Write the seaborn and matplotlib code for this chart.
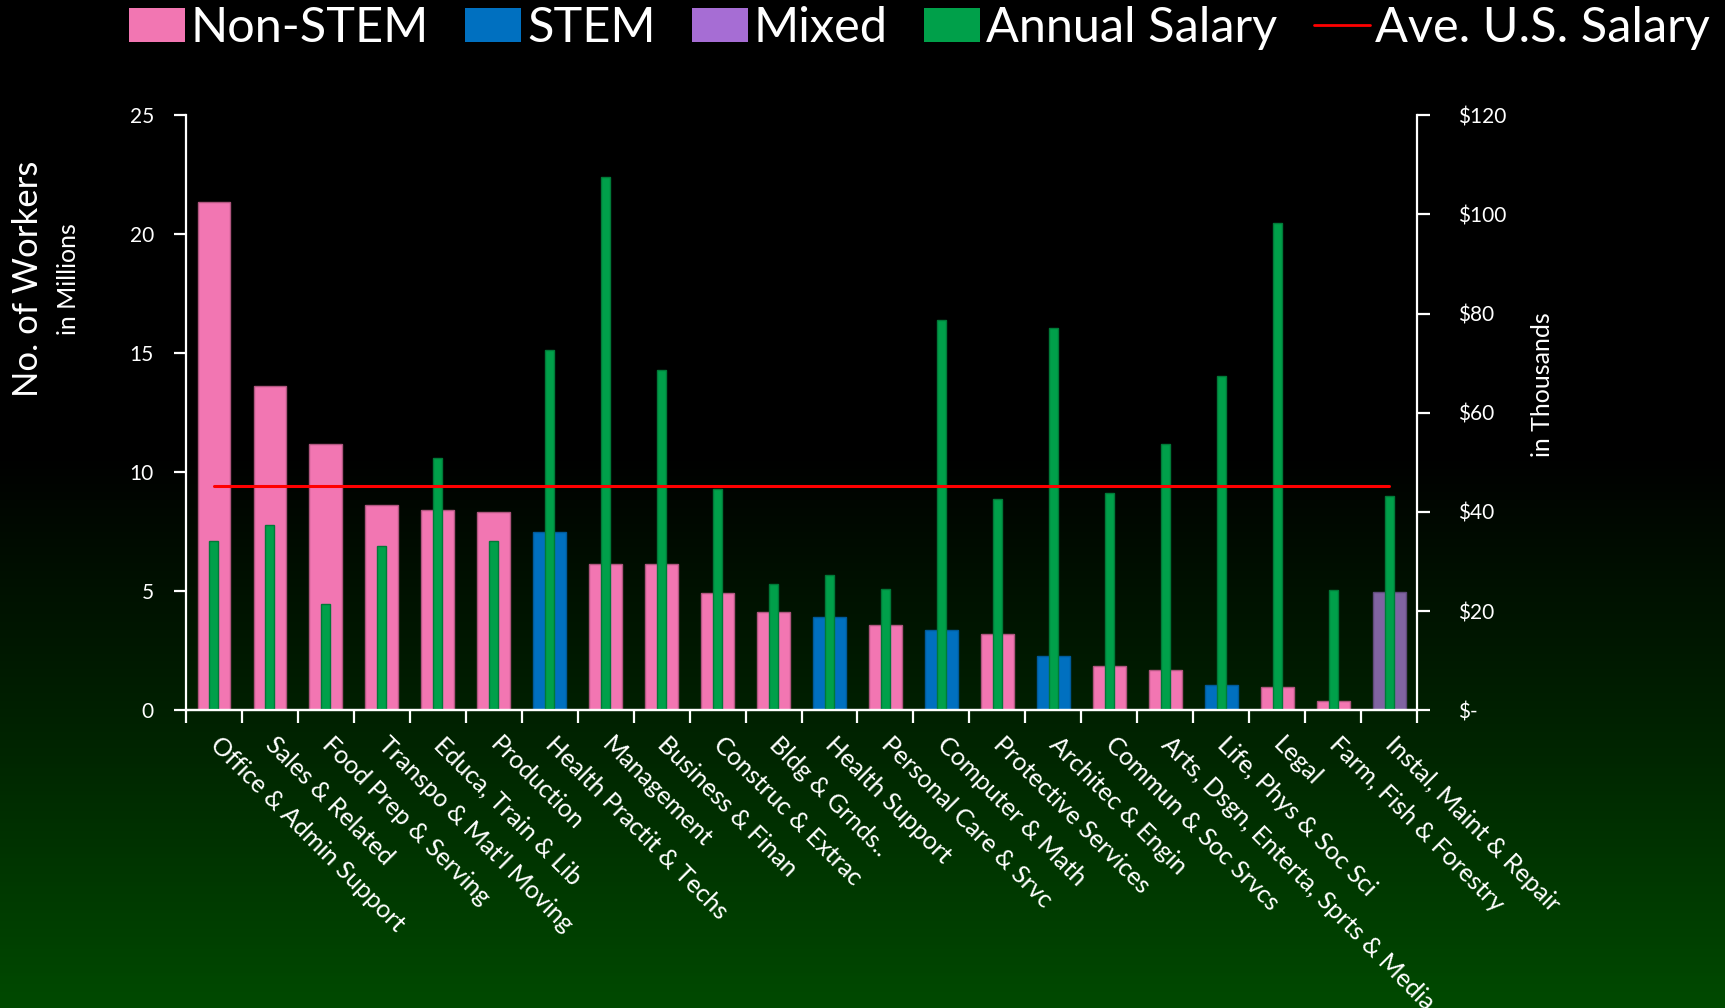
#!/usr/bin/env python3
# Workers per occupation group (bars, left axis) vs. annual salary (thin bars, right axis)

import numpy as np
import pandas as pd
import seaborn as sns
import matplotlib.pyplot as plt
from matplotlib.patches import Patch
from matplotlib.lines import Line2D
from matplotlib.colors import LinearSegmentedColormap, to_rgb

CATEGORIES = [
    "Office & Admin Support", "Sales & Related", "Food Prep & Serving",
    "Transpo & Mat'l Moving", "Educa, Train & Lib", "Production",
    "Health Practit & Techs", "Management", "Business & Finan",
    "Construc & Extrac", "Bldg & Grnds..", "Health Support",
    "Personal Care & Srvc", "Computer & Math", "Protective Services",
    "Architec & Engin", "Commun & Soc Srvcs", "Arts, Dsgn, Enterta, Sprts & Media",
    "Life, Phys & Soc Sci", "Legal", "Farm, Fish & Forestry", "Instal, Maint & Repair",
]
GROUPS = [
    "Non-STEM", "Non-STEM", "Non-STEM", "Non-STEM", "Non-STEM", "Non-STEM",
    "STEM", "Non-STEM", "Non-STEM", "Non-STEM", "Non-STEM", "STEM",
    "Non-STEM", "STEM", "Non-STEM", "STEM", "Non-STEM", "Non-STEM",
    "STEM", "Non-STEM", "Non-STEM", "Mixed",
]
WORKERS_M = [21.37, 13.64, 11.20, 8.63, 8.40, 8.34, 7.50, 6.14, 6.13, 4.91, 4.13,
             3.90, 3.57, 3.37, 3.19, 2.29, 1.86, 1.71, 1.05, 0.98, 0.39, 4.96]
SALARY_K = [34.1, 37.4, 21.4, 33.2, 50.8, 34.1, 72.7, 107.6, 68.7, 44.6, 25.4,
            27.2, 24.4, 78.7, 42.6, 77.1, 43.8, 53.8, 67.4, 98.2, 24.2, 43.3]
AVG_US_SALARY_K = 45.25

LEFT_TICKS = [0, 5, 10, 15, 20, 25]
RIGHT_TICKS = [0, 20, 40, 60, 80, 100, 120]
RIGHT_LABELS = ["$-", "$20", "$40", "$60", "$80", "$100", "$120"]

GROUP_ORDER = ["Non-STEM", "STEM", "Mixed"]
GROUP_COLORS = {"Non-STEM": "#F276B2", "STEM": "#0070C0", "Mixed": "#8064A2"}
GROUP_EDGES = {"Non-STEM": "#B0567F", "STEM": "#005A9A", "Mixed": "#5F4A7A"}
SALARY_COLOR = "#00A04A"
AVG_COLOR = "#FF0000"
FONT = ["Lato", "DejaVu Sans"]


def main():
    df = pd.DataFrame({"occupation": CATEGORIES, "group": GROUPS,
                       "workers": WORKERS_M, "salary": SALARY_K})

    sns.set_theme(style="white")
    plt.rcParams["font.family"] = FONT
    plt.rcParams["text.color"] = "white"

    fig = plt.figure(figsize=(17.25, 10.08), dpi=100)

    # black -> dark green background
    bg = fig.add_axes([0, 0, 1, 1], zorder=-10)
    cmap = LinearSegmentedColormap.from_list(
        "bg", [(0.0, "#000000"), (0.45, "#000000"), (0.75, "#002600"), (1.0, "#004A00")])
    bg.imshow(np.linspace(0, 1, 256).reshape(-1, 1), aspect="auto", cmap=cmap,
              extent=[0, 1, 0, 1])
    bg.set_axis_off()

    ax = fig.add_axes([0.1077, 0.2953, 0.8216 - 0.1077, 0.8857 - 0.2953])
    ax.patch.set_alpha(0)

    sns.barplot(data=df, x="occupation", y="workers", hue="group",
                order=CATEGORIES, hue_order=GROUP_ORDER,
                palette=GROUP_COLORS, saturation=1, dodge=False, width=0.58,
                legend=False, ax=ax)
    # thin darker outline per group
    for patch in ax.patches:
        fc = patch.get_facecolor()[:3]
        for g, c in GROUP_COLORS.items():
            if np.allclose(fc, to_rgb(c), atol=0.02):
                patch.set_edgecolor(GROUP_EDGES[g])
                patch.set_linewidth(1.0)

    ax2 = ax.twinx()
    ax2.patch.set_alpha(0)
    sns.barplot(data=df, x="occupation", y="salary", order=CATEGORIES,
                color=SALARY_COLOR, saturation=1, width=0.16,
                edgecolor="#007A38", linewidth=1.0, ax=ax2)
    sns.lineplot(x=CATEGORIES, y=[AVG_US_SALARY_K] * len(CATEGORIES),
                 color=AVG_COLOR, linewidth=2.2, ax=ax2, zorder=5)

    n = len(CATEGORIES)
    for a in (ax, ax2):
        a.set_xlim(-0.5, n - 0.5)
        a.set_xlabel("")
        a.set_ylabel("")
        a.grid(False)
    ax.set_ylim(0, 25)
    ax2.set_ylim(0, 120)

    # spines
    for a in (ax, ax2):
        a.spines["top"].set_visible(False)
        for side in ("left", "right", "bottom"):
            a.spines[side].set_color("white")
            a.spines[side].set_linewidth(1.6)
    ax.spines["right"].set_visible(False)
    ax2.spines["left"].set_visible(False)

    # y ticks
    ax.set_yticks(LEFT_TICKS)
    ax.set_yticklabels([str(t) for t in LEFT_TICKS])
    ax.tick_params(axis="y", which="both", left=True, direction="out", length=9,
                   width=1.6, color="white", labelcolor="white", labelsize=15, pad=14)
    ax2.set_yticks(RIGHT_TICKS)
    ax2.set_yticklabels(RIGHT_LABELS)
    ax2.tick_params(axis="y", which="both", right=True, direction="out", length=9,
                    width=1.6, color="white", labelcolor="white", labelsize=15, pad=20)

    # x ticks: labels at centres, tick marks at category boundaries
    ax.set_xticks(np.arange(n))
    ax.set_xticklabels(CATEGORIES, rotation=-45, ha="left", va="center",
                       rotation_mode="anchor")
    ax.tick_params(axis="x", which="major", bottom=True, length=0,
                   labelcolor="white", labelsize=18, pad=22)
    ax.set_xticks(np.arange(-0.5, n), minor=True)
    ax.tick_params(axis="x", which="minor", bottom=True, direction="out",
                   length=9, width=1.6, color="white")

    # axis titles
    fig.text(0.016, 0.723, "No. of Workers", rotation=90, ha="center",
             va="center", fontsize=25, color="white")
    fig.text(0.0395, 0.723, "in Millions", rotation=90, ha="center",
             va="center", fontsize=18, color="white")
    fig.text(0.894, 0.618, "in Thousands", rotation=90, ha="center",
             va="center", fontsize=18, color="white")

    # legend
    handles = [
        Patch(facecolor=GROUP_COLORS["Non-STEM"], edgecolor="none"),
        Patch(facecolor=GROUP_COLORS["STEM"], edgecolor="none"),
        Patch(facecolor="#A66DD4", edgecolor="none"),
        Patch(facecolor=SALARY_COLOR, edgecolor="none"),
        Line2D([0], [0], color=AVG_COLOR, linewidth=2),
    ]
    labels = ["Non-STEM", "STEM", "Mixed", "Annual Salary", "Ave. U.S. Salary"]
    leg = fig.legend(handles, labels, loc="upper center", bbox_to_anchor=(0.533, 1.013),
                     ncol=5, frameon=False, fontsize=35, handlelength=1.15,
                     handleheight=0.7, handletextpad=0.12, columnspacing=0.75,
                     borderaxespad=0.0)
    for t in leg.get_texts():
        t.set_color("white")

    fig.savefig("out.png", dpi=100)


if __name__ == "__main__":
    main()
